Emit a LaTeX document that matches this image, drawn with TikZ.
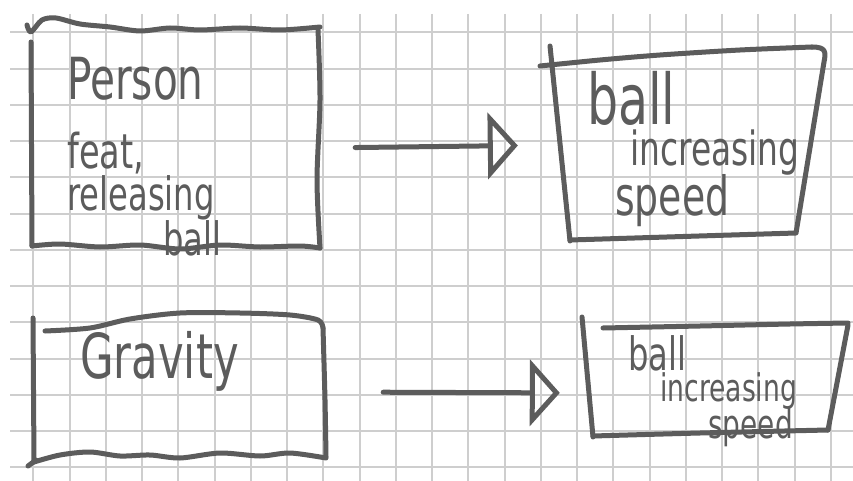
\documentclass[tikz,border=0pt]{standalone}
\usepackage{fontspec}
\setmainfont{DejaVu Sans}[FakeStretch=0.7]
\usetikzlibrary{arrows.meta}
\definecolor{ink}{RGB}{92,92,92}
\definecolor{gridgray}{RGB}{206,206,206}
\tikzstyle{sketch}=[draw=ink,line width=5pt,line cap=round,line join=round]
\tikzstyle{flow}=[sketch,-{Triangle[open,length=30pt,width=66pt]}]
\tikzstyle{boxarea}=[inner sep=0pt]
\tikzstyle{hand}=[text=ink,inner sep=0pt,anchor=base west]

\begin{document}
\begin{tikzpicture}[x=1pt,y=-1pt]

    \useasboundingbox (0,0) rectangle (853,481);
    \fill[white] (0,0) rectangle (853,481);

    % grid paper
    \foreach \k in {0,...,22}
        \draw[gridgray,line width=2pt] (33.3+36.25*\k,14) -- (33.3+36.25*\k,481);
    \foreach \k in {0,...,12}
        \draw[gridgray,line width=2pt] (10,32.3+36.25*\k) -- (853,32.3+36.25*\k);

    % box areas
    \foreach \x/\y/\w/\h/\name in {174/137/288/223/person, 685/145/250/190/balla,
                                   179/389/292/142/gravity, 713/379/250/112/ballb}
        \node[boxarea,minimum width=\w pt,minimum height=\h pt] (\name) at (\x,\y) {};

    % Person box
    \draw[sketch] plot[smooth] coordinates {(27,25) (31,32) (42,20) (56,18) (80,24) (110,27)
        (140,31) (170,28) (200,30) (240,28) (280,30) (320,27)};
    \draw[sketch] (31,42) -- (32,246);
    \draw[sketch] plot[smooth] coordinates {(318,30) (320,100) (317,180) (320,248)};
    \draw[sketch] plot[smooth] coordinates {(32,246) (60,244) (100,247) (140,245) (180,249)
        (220,245) (260,247) (300,246) (320,248)};

    % first ball box
    \draw[sketch] plot[smooth] coordinates {(540,66) (600,60) (660,55) (740,50) (812,47)};
    \draw[sketch] (812,47) .. controls (826,47) and (826,52) .. (824,62)
        -- (796,233) -- (570,240);
    \draw[sketch] (550,46) -- (570,241);

    % Gravity box
    \draw[sketch] (33,318) -- (34,462);
    \draw[sketch] (28,466) -- (36,460);
    \draw[sketch] plot[smooth] coordinates {(45,331) (90,328) (130,319) (180,313) (240,313)
        (290,315) (318,320) (323,328)};
    \draw[sketch] plot[smooth] coordinates {(323,328) (325,400) (326,457)};
    \draw[sketch] plot[smooth] coordinates {(34,462) (60,455) (90,452) (120,456) (150,455)
        (180,458) (220,453) (260,456) (290,453) (326,458)};

    % second ball box
    \draw[sketch] (582,317) -- (593,437);
    \draw[sketch] plot[smooth] coordinates {(603,328) (700,326) (790,324) (848,323)};
    \draw[sketch] (848,325) -- (828,430);
    \draw[sketch] plot[smooth] coordinates {(593,436) (700,433) (828,430)};

    % handwriting
    \foreach \x/\y/\sz/\name/\txt in {67/100/58/tperson/Person, 67/168/48/tfeat/{feat,},
            67/210/46/treleasing/releasing, 163/255/46/tball/ball,
            587/125/70/tballa/ball, 630/165/47/tincra/increasing, 615/215/54/tspeeda/speed,
            628/370/46/tballb/ball, 660/401/38/tincrb/increasing, 708/438/40/tspeedb/speed,
            80/378/62/tgravity/Gravity}
        \node[hand,font=\fontsize{\sz}{\sz}\selectfont] (\name) at (\x,\y) {\txt};

    % arrows
    \draw[flow,shorten <=37pt,shorten >=42pt] ([yshift=-11pt]person.east) -- (balla.west);
    \draw[flow,shorten <=58pt,shorten >=28pt] ([yshift=-3pt]gravity.east) -- ([yshift=-14pt]ballb.west);

\end{tikzpicture}
\end{document}
